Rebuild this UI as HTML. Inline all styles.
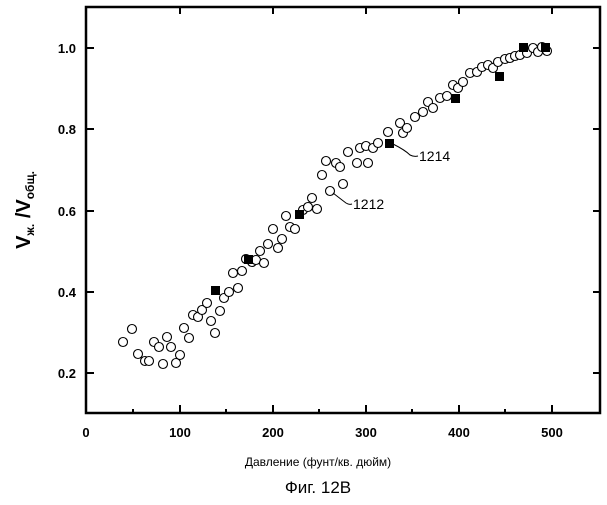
<!DOCTYPE html><html><head><style>body{margin:0;background:#fff}</style></head><body>
<svg width="607" height="500" xmlns="http://www.w3.org/2000/svg" font-family="Liberation Sans, DejaVu Sans, sans-serif">
<rect width="607" height="500" fill="#fff"/>
<g stroke="#000" stroke-width="2.5" fill="none">
<rect x="86" y="7" width="514" height="406"/>
</g>
<g stroke="#000" stroke-width="2">
<line x1="180" y1="413" x2="180" y2="405"/><line x1="273" y1="413" x2="273" y2="405"/><line x1="366" y1="413" x2="366" y2="405"/><line x1="459" y1="413" x2="459" y2="405"/><line x1="552" y1="413" x2="552" y2="405"/>
<line x1="133" y1="413" x2="133" y2="409"/><line x1="226" y1="413" x2="226" y2="409"/><line x1="319" y1="413" x2="319" y2="409"/><line x1="412" y1="413" x2="412" y2="409"/><line x1="505" y1="413" x2="505" y2="409"/>
<line x1="180" y1="7" x2="180" y2="14"/><line x1="273" y1="7" x2="273" y2="14"/><line x1="366" y1="7" x2="366" y2="14"/><line x1="459" y1="7" x2="459" y2="14"/><line x1="552" y1="7" x2="552" y2="14"/>
<line x1="86" y1="373" x2="94" y2="373"/><line x1="86" y1="292" x2="94" y2="292"/><line x1="86" y1="211" x2="94" y2="211"/><line x1="86" y1="129" x2="94" y2="129"/><line x1="86" y1="48" x2="94" y2="48"/>
<line x1="600" y1="373" x2="593" y2="373"/><line x1="600" y1="292" x2="593" y2="292"/><line x1="600" y1="211" x2="593" y2="211"/><line x1="600" y1="129" x2="593" y2="129"/><line x1="600" y1="48" x2="593" y2="48"/>
</g>
<g font-size="13" font-weight="bold" text-anchor="middle">
<text x="86" y="437">0</text><text x="180" y="437">100</text><text x="273" y="437">200</text><text x="366" y="437">300</text><text x="459" y="437">400</text><text x="552" y="437">500</text>
</g>
<g font-size="13" font-weight="bold" text-anchor="end">
<text x="76" y="378">0.2</text><text x="76" y="297">0.4</text><text x="76" y="216">0.6</text><text x="76" y="134">0.8</text><text x="76" y="53">1.0</text>
</g>
<text transform="translate(30,210) rotate(-90)" text-anchor="middle" font-size="20" font-weight="bold">V<tspan font-size="12" dy="4">ж.</tspan><tspan dy="-4"> /V</tspan><tspan font-size="12" dy="4">общ.</tspan></text>
<text x="318" y="466" text-anchor="middle" font-size="12">Давление (фунт/кв. дюйм)</text>
<text x="318" y="493" text-anchor="middle" font-size="17">Фиг. 12B</text>
<g fill="#fff" stroke="#000" stroke-width="1.1">
<circle cx="123" cy="342" r="4.5"/><circle cx="132" cy="329" r="4.5"/><circle cx="138" cy="354" r="4.5"/><circle cx="145" cy="361" r="4.5"/><circle cx="149" cy="361" r="4.5"/><circle cx="154" cy="342" r="4.5"/><circle cx="159" cy="347" r="4.5"/><circle cx="163" cy="364" r="4.5"/><circle cx="167" cy="337" r="4.5"/><circle cx="171" cy="347" r="4.5"/><circle cx="176" cy="363" r="4.5"/><circle cx="180" cy="355" r="4.5"/><circle cx="184" cy="328" r="4.5"/><circle cx="189" cy="338" r="4.5"/><circle cx="193" cy="315" r="4.5"/><circle cx="198" cy="317" r="4.5"/><circle cx="202" cy="310" r="4.5"/><circle cx="207" cy="303" r="4.5"/><circle cx="211" cy="321" r="4.5"/><circle cx="215" cy="333" r="4.5"/><circle cx="220" cy="311" r="4.5"/><circle cx="224" cy="298" r="4.5"/><circle cx="229" cy="292" r="4.5"/><circle cx="233" cy="273" r="4.5"/><circle cx="238" cy="288" r="4.5"/><circle cx="242" cy="271" r="4.5"/><circle cx="246" cy="259" r="4.5"/><circle cx="252" cy="262" r="4.5"/><circle cx="256" cy="260" r="4.5"/><circle cx="260" cy="251" r="4.5"/><circle cx="264" cy="263" r="4.5"/><circle cx="268" cy="244" r="4.5"/><circle cx="273" cy="229" r="4.5"/><circle cx="278" cy="248" r="4.5"/><circle cx="282" cy="239" r="4.5"/><circle cx="286" cy="216" r="4.5"/><circle cx="290" cy="227" r="4.5"/><circle cx="295" cy="229" r="4.5"/><circle cx="303" cy="210" r="4.5"/><circle cx="308" cy="207" r="4.5"/><circle cx="312" cy="198" r="4.5"/><circle cx="317" cy="209" r="4.5"/><circle cx="322" cy="175" r="4.5"/><circle cx="326" cy="161" r="4.5"/><circle cx="330" cy="191" r="4.5"/><circle cx="336" cy="163" r="4.5"/><circle cx="340" cy="167" r="4.5"/><circle cx="343" cy="184" r="4.5"/><circle cx="348" cy="152" r="4.5"/><circle cx="357" cy="163" r="4.5"/><circle cx="360" cy="148" r="4.5"/><circle cx="366" cy="146" r="4.5"/><circle cx="368" cy="163" r="4.5"/><circle cx="373" cy="148" r="4.5"/><circle cx="378" cy="143" r="4.5"/><circle cx="388" cy="132" r="4.5"/><circle cx="400" cy="123" r="4.5"/><circle cx="403" cy="133" r="4.5"/><circle cx="407" cy="128" r="4.5"/><circle cx="415" cy="117" r="4.5"/><circle cx="423" cy="112" r="4.5"/><circle cx="428" cy="102" r="4.5"/><circle cx="433" cy="108" r="4.5"/><circle cx="440" cy="98" r="4.5"/><circle cx="447" cy="96" r="4.5"/><circle cx="453" cy="85" r="4.5"/><circle cx="458" cy="88" r="4.5"/><circle cx="463" cy="82" r="4.5"/><circle cx="470" cy="73" r="4.5"/><circle cx="477" cy="72" r="4.5"/><circle cx="482" cy="67" r="4.5"/><circle cx="488" cy="65" r="4.5"/><circle cx="493" cy="68" r="4.5"/><circle cx="498" cy="62" r="4.5"/><circle cx="505" cy="59" r="4.5"/><circle cx="510" cy="58" r="4.5"/><circle cx="515" cy="56" r="4.5"/><circle cx="520" cy="55" r="4.5"/><circle cx="527" cy="53" r="4.5"/><circle cx="533" cy="48" r="4.5"/><circle cx="538" cy="52" r="4.5"/><circle cx="542" cy="47" r="4.5"/><circle cx="547" cy="51" r="4.5"/>
</g>
<g fill="#000">
<rect x="211" y="286" width="9" height="9"/><rect x="244" y="255" width="9" height="9"/><rect x="295" y="210" width="9" height="9"/><rect x="385" y="139" width="9" height="9"/><rect x="451" y="94" width="9" height="9"/><rect x="495" y="72" width="9" height="9"/><rect x="519" y="43" width="9" height="9"/><rect x="541" y="43" width="9" height="9"/>
</g>
<g fill="none" stroke="#000" stroke-width="1">
<path d="M393 144 Q405 150 410 155 Q414 157 418 156"/>
<path d="M333 193 Q342 200 346 203 Q349 205 352 204"/>
</g>
<g font-size="14"><text x="419" y="161">1214</text><text x="353" y="209">1212</text></g>
</svg>
</body></html>
